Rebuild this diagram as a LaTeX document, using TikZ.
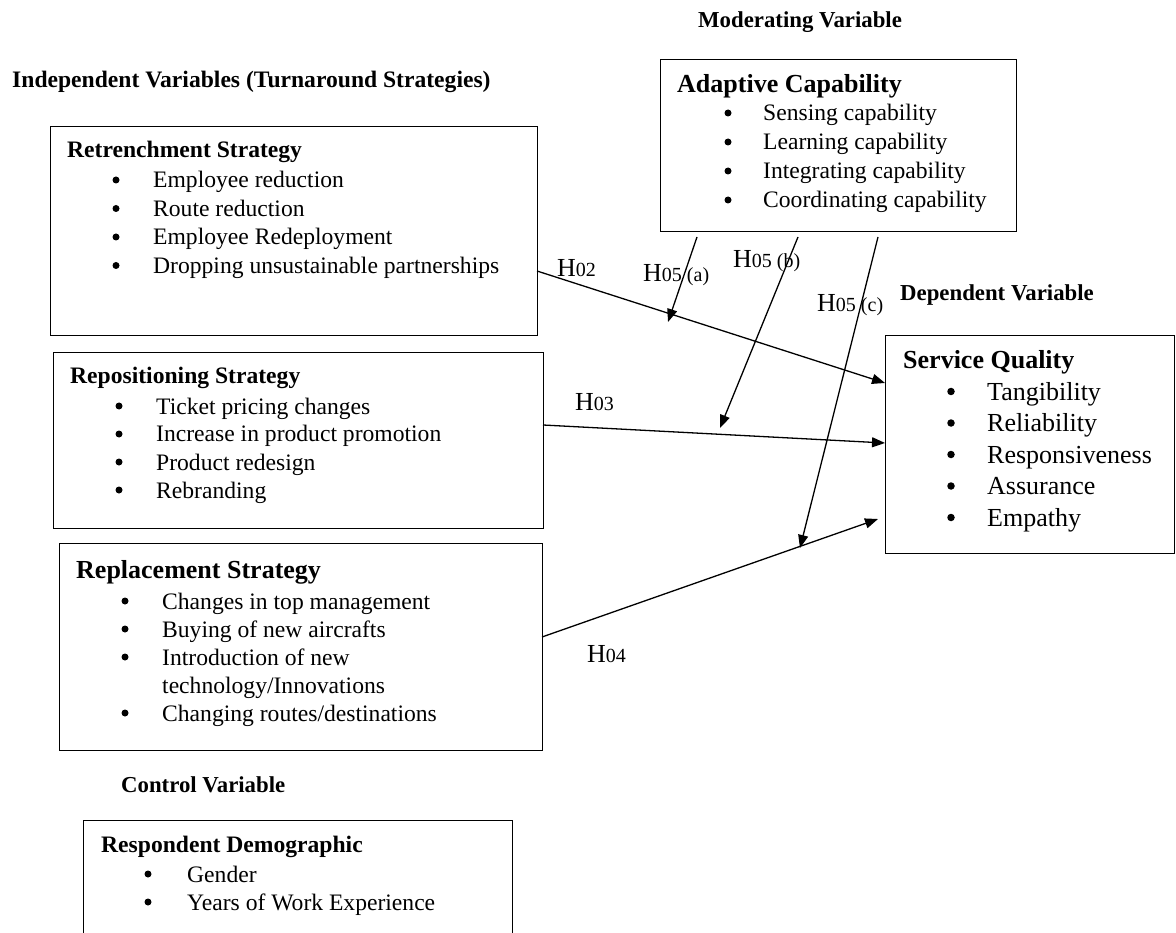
\documentclass[tikz,border=0pt]{standalone}
\usepackage{fontspec}
\setmainfont{Liberation Serif}
\usetikzlibrary{arrows.meta}
\newcommand\myfs[1]{\fontsize{#1}{#1}\selectfont}
\newcommand\mysub[1]{{\myfs{20}#1}}
\tikzset{
  box/.style={draw, line width=1.4pt, inner sep=0pt, anchor=north west},
  hdr/.style={font=\myfs{22.8}\bfseries, anchor=base west, inner sep=0pt},
  ttl/.style={font=\myfs{23.6}\bfseries, anchor=base west, inner sep=0pt},
  bigttl/.style={font=\myfs{26}\bfseries, anchor=base west, inner sep=0pt},
  itm/.style={font=\myfs{23.6}, anchor=base west, inner sep=0pt},
  bigitm/.style={font=\myfs{26}, anchor=base west, inner sep=0pt},
  bul/.style={circle, fill, inner sep=0pt, minimum size=7pt},
  hl/.style={font=\myfs{26}, anchor=base west, inner sep=0pt},
  arr/.style={line width=1.3pt, -{Triangle[length=13pt,width=10pt]}},
}
\begin{document}
\begin{tikzpicture}[x=1pt,y=-1pt]
\useasboundingbox (0,0) rectangle (1176,933);
\fill[white] (0,0) rectangle (1176,933);

% headings
\node[hdr] (hmod) at (698,28) {Moderating Variable};
\node[hdr, font=\myfs{23.6}\bfseries] (hind) at (12,88) {Independent Variables (Turnaround Strategies)};
\node[hdr] (hdep) at (900,301) {Dependent Variable};
\node[hdr] (hctl) at (121,792) {Control Variable};

% boxes
\node[box, minimum width=487pt, minimum height=209pt] (ret) at (50,126) {};
\node[box, minimum width=490pt, minimum height=176pt] (rep) at (53,352) {};
\node[box, minimum width=483pt, minimum height=207pt] (rpl) at (59,543) {};
\node[box, minimum width=429pt, minimum height=135pt] (dem) at (83,820) {};
\node[box, minimum width=356pt, minimum height=172pt] (ada) at (660,59) {};
\node[box, minimum width=289pt, minimum height=218pt] (sq) at (885,335) {};

% Retrenchment
\node[ttl] (ret-t) at (67,158) {Retrenchment Strategy};
\foreach \t [count=\i from 0] in {Employee reduction, Route reduction, Employee Redeployment, Dropping unsustainable partnerships} {
  \node[bul] (ret-b\i) at (116,180+28.5*\i) {};
  \node[itm] (ret-i\i) at (153,188+28.5*\i) {\t};
}

% Repositioning
\node[ttl] (rep-t) at (70,384) {Repositioning Strategy};
\foreach \t [count=\i from 0] in {Ticket pricing changes, Increase in product promotion, Product redesign, Rebranding} {
  \node[bul] (rep-b\i) at (119,406+28*\i) {};
  \node[itm] (rep-i\i) at (156,414+28*\i) {\t};
}

% Replacement
\node[bigttl] (rpl-t) at (76,578) {Replacement Strategy};
\node[bul] (rpl-b0) at (125,601) {};
\node[itm] (rpl-i0) at (162,609) {Changes in top management};
\node[bul] (rpl-b1) at (125,629) {};
\node[itm] (rpl-i1) at (162,637) {Buying of new aircrafts};
\node[bul] (rpl-b2) at (125,657) {};
\node[itm] (rpl-i2) at (162,665) {Introduction of new};
\node[itm] (rpl-i2b) at (162,693) {technology/Innovations};
\node[bul] (rpl-b3) at (125,713) {};
\node[itm] (rpl-i3) at (162,721) {Changing routes/destinations};

% Demographic
\node[ttl] (dem-t) at (101,852) {Respondent Demographic};
\node[bul] (dem-b0) at (148,874) {};
\node[itm] (dem-i0) at (187,882) {Gender};
\node[bul] (dem-b1) at (148,902) {};
\node[itm] (dem-i1) at (187,910) {Years of Work Experience};

% Adaptive Capability
\node[bigttl] (ada-t) at (677,93) {Adaptive Capability};
\foreach \t [count=\i from 0] in {Sensing capability, Learning capability, Integrating capability, Coordinating capability} {
  \node[bul] (ada-b\i) at (728,113+29*\i) {};
  \node[itm] (ada-i\i) at (763,121+29*\i) {\t};
}

% Service Quality
\node[bigttl] (sq-t) at (903,369) {Service Quality};
\foreach \t [count=\i from 0] in {Tangibility, Reliability, Responsiveness, Assurance, Empathy} {
  \node[bul, minimum size=7.5pt] (sq-b\i) at (951,391.5+31.5*\i) {};
  \node[bigitm] (sq-i\i) at (987,400+31.5*\i) {\t};
}

% connector end points
\coordinate (ret-out) at (537,271);
\coordinate (rep-out) at (543,425);
\coordinate (rpl-out) at (542,637);
\coordinate (sq-in1) at (885,383);
\coordinate (sq-in2) at (885,443);
\coordinate (sq-in3) at (878,519);
\coordinate (ada-a) at (697,237);
\coordinate (ada-b) at (798,237);
\coordinate (ada-c) at (878,237);
\coordinate (tip-a) at (668,322);
\coordinate (tip-b) at (720,428);
\coordinate (tip-c) at (800,548);

\draw[arr] (ret-out) -- (sq-in1);
\draw[arr] (rep-out) -- (sq-in2);
\draw[arr] (rpl-out) -- (sq-in3);
\draw[arr] (ada-a) -- (tip-a);
\draw[arr] (ada-b) -- (tip-b);
\draw[arr] (ada-c) -- (tip-c);

% hypothesis labels
\node[hl] (h02) at (557,277) {H\mysub{02}};
\node[hl] (h05a) at (643,282) {H\mysub{05 (a)}};
\node[hl] (h05b) at (733,268) {H\mysub{05 (b)}};
\node[hl] (h05c) at (817,312) {H\mysub{05 (c)}};
\node[hl] (h03) at (575,410) {H\mysub{03}};
\node[hl] (h04) at (587,662) {H\mysub{04}};
\end{tikzpicture}
\end{document}
